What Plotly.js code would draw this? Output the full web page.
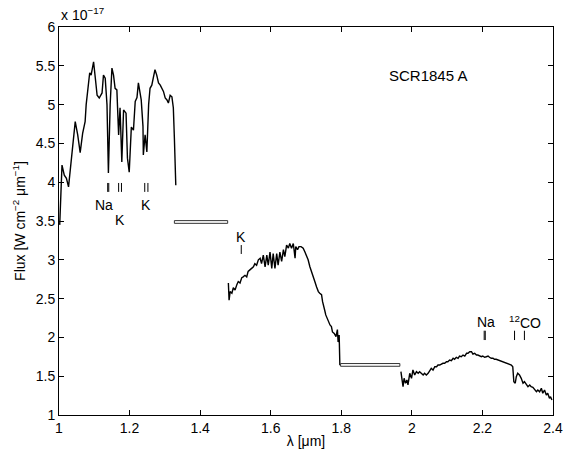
<!DOCTYPE html>
<html>
<head>
<meta charset="utf-8">
<script src="https://cdn.plot.ly/plotly-3.0.1.min.js"></script>
<style>html,body{margin:0;padding:0;background:#fff;}#chart{width:563px;height:461px;}</style>
</head>
<body>
<div id="chart"></div>
<script>
// Spectrum of SCR1845 A (flux in units of 1e-17 W cm^-2 um^-1)
var jWave = [1.002,1.0085,1.015,1.021,1.027,1.037,1.046,1.053,1.060,1.067,1.074,1.077,1.084,1.087,1.091,1.098,1.103,1.108,1.114,1.122,1.126,1.131,1.136,1.140,1.145,1.150,1.1545,1.159,1.164,1.169,1.173,1.178,1.183,1.190,1.194,1.199,1.205,1.211,1.216,1.221,1.225,1.230,1.233,1.238,1.239,1.244,1.249,1.254,1.258,1.263,1.268,1.272,1.277,1.282,1.287,1.291,1.296,1.301,1.306,1.310,1.315,1.320,1.324,1.327,1.331];
var jFlux = [3.45,4.22,4.09,4.05,3.94,4.35,4.78,4.61,4.38,4.63,4.78,5.00,5.30,5.41,5.38,5.55,5.34,5.12,5.085,5.15,5.38,5.34,5.00,4.12,5.00,5.47,5.38,5.21,5.19,4.61,4.96,4.26,4.93,4.89,4.31,4.13,4.71,4.67,5.04,5.09,5.28,5.17,5.06,4.72,4.35,4.61,4.39,5.00,5.21,5.25,5.38,5.45,5.38,5.28,5.25,5.21,5.17,5.085,5.06,5.02,5.12,5.10,4.96,4.57,3.96];

var hWave = [1.480,1.482,1.485,1.490,1.494,1.499,1.504,1.508,1.513,1.518,1.522,1.527,1.532,1.536,1.541,1.546,1.551,1.555,1.560,1.565,1.570,1.574,1.579,1.584,1.589,1.593,1.598,1.603,1.607,1.612,1.617,1.621,1.626,1.631,1.636,1.640,1.645,1.650,1.654,1.659,1.664,1.669,1.671,1.676,1.680,1.686,1.692,1.697,1.702,1.706,1.711,1.716,1.720,1.725,1.730,1.735,1.739,1.744,1.747,1.751,1.753,1.756,1.760,1.763,1.768,1.772,1.775,1.780,1.785,1.789,1.791,1.794,1.796];
var hFlux = [2.70,2.48,2.59,2.57,2.64,2.61,2.68,2.72,2.70,2.77,2.78,2.80,2.78,2.85,2.87,2.89,2.91,2.95,2.93,3.00,3.02,2.95,3.06,2.91,3.06,2.93,3.10,2.89,3.08,2.89,3.08,2.93,3.10,2.98,3.13,3.04,3.19,3.15,3.21,3.15,3.21,3.02,3.17,3.13,3.17,3.17,3.15,3.10,3.04,3.00,2.91,2.85,2.80,2.72,2.65,2.59,2.57,2.55,2.46,2.40,2.35,2.29,2.25,2.20,2.16,2.14,2.07,2.05,2.01,2.10,1.94,2.03,1.64];

var kWave = [1.969,1.975,1.978,1.982,1.986,1.989,1.994,1.999,2.003,2.008,2.013,2.018,2.022,2.027,2.032,2.036,2.041,2.046,2.051,2.055,2.060,2.065,2.070,2.074,2.079,2.084,2.088,2.093,2.098,2.102,2.107,2.112,2.117,2.121,2.126,2.131,2.135,2.140,2.145,2.150,2.155,2.159,2.164,2.169,2.173,2.178,2.183,2.187,2.192,2.197,2.201,2.206,2.211,2.216,2.220,2.225,2.230,2.234,2.239,2.244,2.249,2.254,2.258,2.263,2.268,2.272,2.277,2.282,2.286,2.289,2.293,2.296,2.300,2.305,2.310,2.315,2.319,2.324,2.329,2.334,2.338,2.343,2.348,2.353,2.357,2.362,2.367,2.371,2.376,2.381,2.385,2.390,2.393,2.397];
var kFlux = [1.558,1.365,1.473,1.409,1.451,1.387,1.537,1.473,1.580,1.515,1.558,1.537,1.558,1.537,1.515,1.537,1.515,1.537,1.580,1.602,1.580,1.622,1.622,1.644,1.644,1.657,1.666,1.666,1.687,1.687,1.709,1.700,1.731,1.718,1.744,1.731,1.760,1.751,1.773,1.760,1.795,1.795,1.816,1.816,1.786,1.795,1.773,1.773,1.760,1.751,1.760,1.744,1.751,1.760,1.744,1.731,1.731,1.718,1.718,1.709,1.700,1.700,1.687,1.674,1.674,1.666,1.657,1.644,1.622,1.429,1.409,1.494,1.537,1.515,1.473,1.409,1.429,1.387,1.365,1.387,1.365,1.357,1.322,1.300,1.322,1.300,1.344,1.280,1.322,1.258,1.280,1.215,1.236,1.193];

// Telluric gaps (drawn as thin boxes)
var gap1X = [1.327,1.478,1.478,1.327,1.327];
var gap1Y = [3.47,3.47,3.505,3.505,3.47];
var gap2X = [1.798,1.966,1.966,1.798,1.798];
var gap2Y = [1.628,1.628,1.663,1.663,1.628];

// Feature line positions (um)
var jLines = [1.138,1.141,1.169,1.177,1.243,1.252];
var hLines = [1.5165];
var kLines = [2.205,2.208,2.291,2.319];

var featLabels = ['Na','K','K','K','Na','<sup>12</sup>CO'];
var featLabelX = [1.128,1.173,1.247,1.516,2.211,2.322];
var featLabelY = [3.71,3.51,3.71,3.30,2.20,2.20];

function segs(waves, y0, y1) {
  var xs = [], ys = [];
  waves.forEach(function (w) { xs.push(w, w, null); ys.push(y0, y1, null); });
  return {x: xs, y: ys};
}
var sj = segs(jLines, 3.875, 3.99);
var sh = segs(hLines, 3.075, 3.19);
var sk = segs(kLines, 1.966, 2.086);

var font = '"Liberation Sans", Arial, Helvetica, sans-serif';
var specLine = {color: '#000', width: 1.4};
var traces = [
  {x: jWave, y: jFlux, mode: 'lines', line: specLine, showlegend: false, hoverinfo: 'skip'},
  {x: hWave, y: hFlux, mode: 'lines', line: specLine, showlegend: false, hoverinfo: 'skip'},
  {x: kWave, y: kFlux, mode: 'lines', line: specLine, showlegend: false, hoverinfo: 'skip'},
  {x: gap1X, y: gap1Y, mode: 'lines', line: {color: '#333', width: 1}, showlegend: false, hoverinfo: 'skip'},
  {x: gap2X, y: gap2Y, mode: 'lines', line: {color: '#333', width: 1}, showlegend: false, hoverinfo: 'skip'},
  {x: sj.x, y: sj.y, mode: 'lines', line: {color: '#000', width: 1}, showlegend: false, hoverinfo: 'skip'},
  {x: sh.x, y: sh.y, mode: 'lines', line: {color: '#000', width: 1}, showlegend: false, hoverinfo: 'skip'},
  {x: sk.x, y: sk.y, mode: 'lines', line: {color: '#000', width: 1}, showlegend: false, hoverinfo: 'skip'}
];

var annotations = featLabels.map(function (t, i) {
  return {x: featLabelX[i], y: featLabelY[i], xref: 'x', yref: 'y', text: t, showarrow: false,
          font: {family: font, size: 14, color: '#000'}};
});
annotations.push({x: 2.045, y: 5.38, xref: 'x', yref: 'y', text: 'SCR1845 A', showarrow: false,
                  font: {family: font, size: 15, color: '#000'}});
annotations.push({x: 0, y: 1, xref: 'paper', yref: 'paper', xanchor: 'left', yanchor: 'bottom', yshift: 2,
                  text: 'x 10<sup>\u221217</sup>', showarrow: false, font: {family: font, size: 14, color: '#000'}});

var axisCommon = {
  showline: true, linecolor: '#000', linewidth: 1, mirror: 'ticks',
  ticks: 'inside', ticklen: 5, tickcolor: '#000', tickwidth: 1,
  showgrid: false, zeroline: false,
  tickfont: {family: font, size: 14, color: '#000'}
};

var layout = {
  width: 563, height: 461,
  margin: {l: 59, r: 10, t: 27, b: 46},
  paper_bgcolor: '#fff', plot_bgcolor: '#fff',
  font: {family: font, size: 14, color: '#000'},
  xaxis: Object.assign({}, axisCommon, {
    range: [1, 2.4], tickvals: [1, 1.2, 1.4, 1.6, 1.8, 2, 2.2, 2.4],
    ticktext: ['1', '1.2', '1.4', '1.6', '1.8', '2', '2.2', '2.4'],
    title: {text: '\u03bb [\u03bcm]', font: {family: font, size: 14, color: '#000'}, standoff: 1}
  }),
  yaxis: Object.assign({}, axisCommon, {
    range: [1, 6], tickvals: [1, 1.5, 2, 2.5, 3, 3.5, 4, 4.5, 5, 5.5, 6],
    ticktext: ['1', '1.5', '2', '2.5', '3', '3.5', '4', '4.5', '5', '5.5', '6'],
    title: {text: 'Flux [W cm<sup>\u22122</sup> \u03bcm<sup>\u22121</sup>]', font: {family: font, size: 14, color: '#000'}, standoff: 6}
  }),
  annotations: annotations
};

Plotly.newPlot('chart', traces, layout, {displayModeBar: false, staticPlot: true});
</script>
</body>
</html>
